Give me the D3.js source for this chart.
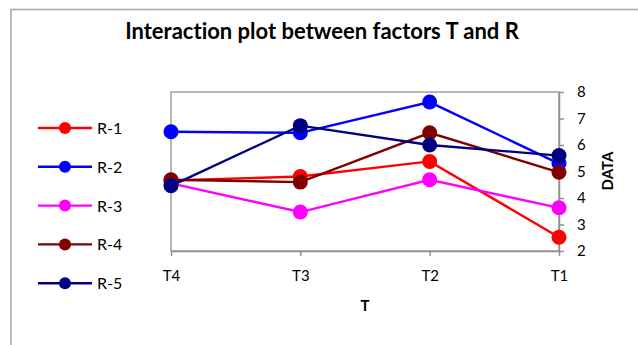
<!DOCTYPE html>
<html>
<head>
<meta charset="utf-8">
<script src="https://cdn.jsdelivr.net/npm/d3@7/dist/d3.min.js"></script>
<style>
  html, body { margin: 0; padding: 0; background: #fff; }
  svg { display: block; }
  text { font-family: Lato, "Open Sans", sans-serif; fill: #000; font-variant-ligatures: none; }
</style>
</head>
<body>
<svg id="chart" width="638" height="345"></svg>
<script>
// Factor T levels along the x axis
const categories = ["T4", "T3", "T2", "T1"];
// Mean response for each level of factor R
const seriesNames = ["R-1", "R-2", "R-3", "R-4", "R-5"];
const seriesColors = ["#ff0000", "#0000ff", "#ff00ff", "#800000", "#000080"];
const r1 = [4.66, 4.81, 5.38, 2.52];
const r2 = [6.50, 6.46, 7.62, 5.30];
const r3 = [4.55, 3.47, 4.69, 3.63];
const r4 = [4.69, 4.60, 6.46, 4.97];
const r5 = [4.46, 6.73, 6.00, 5.60];
const yTicks = [2, 3, 4, 5, 6, 7, 8];

const seriesValues = [r1, r2, r3, r4, r5];
const series = seriesNames.map((name, i) => ({ name, color: seriesColors[i], values: seriesValues[i] }));

const svg = d3.select("#chart");

// outer chart frame
svg.append("rect")
  .attr("x", 11).attr("y", 9.5)
  .attr("width", 700).attr("height", 400)
  .attr("fill", "#fff")
  .attr("stroke", "#a6a6a6").attr("stroke-width", 1.5);

svg.append("text")
  .attr("x", 322).attr("y", 39)
  .attr("text-anchor", "middle")
  .attr("font-size", 22).attr("font-weight", "bold")
  .text("Interaction plot between factors T and R");

const plotLeft = 171, plotRight = 559, plotTop = 92, plotBottom = 251;

const x = d3.scalePoint().domain(categories).range([plotLeft, plotRight]).padding(0);
const y = d3.scaleLinear().domain([2, 8]).range([plotBottom, plotTop]);

// plot area border
svg.append("rect")
  .attr("x", plotLeft).attr("y", plotTop)
  .attr("width", plotRight - plotLeft).attr("height", plotBottom - plotTop)
  .attr("fill", "none")
  .attr("stroke", "#a0a0a0").attr("stroke-width", 1.5);

const xAxis = svg.append("g")
  .attr("transform", `translate(0,${plotBottom})`)
  .call(d3.axisBottom(x).tickSizeInner(5).tickSizeOuter(0).tickPadding(14));
xAxis.select(".domain").attr("stroke", "#909090").attr("stroke-width", 1.5);
xAxis.selectAll(".tick line").attr("stroke", "#909090").attr("stroke-width", 1.5);
xAxis.selectAll(".tick text").attr("font-size", 15).attr("font-family", "Lato, sans-serif").attr("fill", "#000");

const yAxis = svg.append("g")
  .attr("transform", `translate(${plotRight},0)`)
  .call(d3.axisRight(y).tickValues(yTicks).tickFormat(d3.format("d")).tickSizeInner(5).tickSizeOuter(0).tickPadding(13));
yAxis.select(".domain").attr("stroke", "#909090").attr("stroke-width", 1.5);
yAxis.selectAll(".tick line").attr("stroke", "#909090").attr("stroke-width", 1.5);
yAxis.selectAll(".tick text").attr("font-size", 15).attr("font-family", "Lato, sans-serif").attr("fill", "#000");

svg.append("text")
  .attr("x", 365).attr("y", 311)
  .attr("text-anchor", "middle")
  .attr("font-size", 15).attr("font-weight", "bold")
  .text("T");

svg.append("text")
  .attr("transform", "translate(613,171) rotate(-90)")
  .attr("text-anchor", "middle")
  .attr("font-size", 15).attr("font-weight", "bold")
  .text("DATA");

const line = d3.line().x((d, i) => x(categories[i])).y(d => y(d));

const g = svg.append("g");
series.forEach(s => {
  const sg = g.append("g");
  sg.append("path")
    .attr("d", line(s.values))
    .attr("fill", "none")
    .attr("stroke", s.color).attr("stroke-width", 2.4);
  sg.selectAll("circle").data(s.values).join("circle")
    .attr("cx", (d, i) => x(categories[i]))
    .attr("cy", d => y(d))
    .attr("r", 7.5)
    .attr("fill", s.color);
});

// legend
const legend = svg.append("g");
series.forEach((s, i) => {
  const ly = 128 + i * 38.8;
  legend.append("line")
    .attr("x1", 38).attr("x2", 92).attr("y1", ly).attr("y2", ly)
    .attr("stroke", s.color).attr("stroke-width", 2.4);
  legend.append("circle")
    .attr("cx", 65).attr("cy", ly).attr("r", 6)
    .attr("fill", s.color);
  legend.append("text")
    .attr("x", 97).attr("y", ly + 6)
    .attr("font-size", 16)
    .text(s.name);
});
</script>
</body>
</html>
